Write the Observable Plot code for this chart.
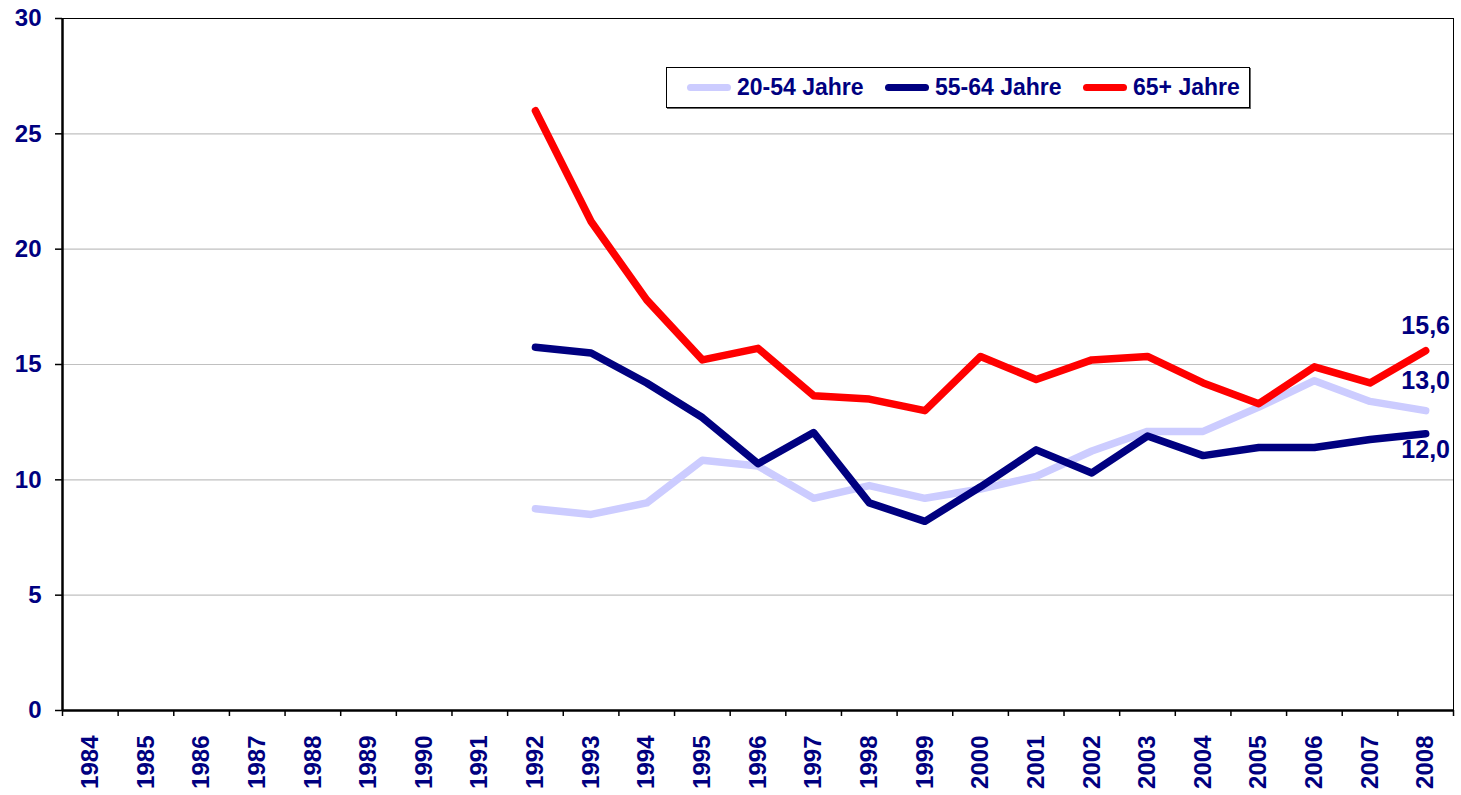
<!DOCTYPE html>
<html>
<head>
<meta charset="utf-8">
<script src="https://cdn.jsdelivr.net/npm/d3@7"></script>
<script src="https://cdn.jsdelivr.net/npm/@observablehq/plot@0.6"></script>
<style>
  html, body { margin: 0; padding: 0; background: #fff; }
  #wrap { position: relative; width: 1461px; height: 795px; }
  #legend {
    position: absolute; left: 666px; top: 67px; width: 582px; height: 39px;
    border: 1.5px solid #000; box-shadow: 1px 1px 0 #666; background: #fff;
    font-family: "Liberation Sans", Arial, sans-serif; font-weight: bold; font-size: 23px; color: #000080;
  }
  #legend .item { position: absolute; top: 0; height: 39px; display: flex; align-items: center; }
  #legend .sw { display: inline-block; width: 44px; height: 7px; border-radius: 4px; margin-right: 6px; }
  svg .axlab text { font-family: "Liberation Sans", Arial, sans-serif; font-weight: bold; }
</style>
</head>
<body>
<div id="wrap">
  <div id="chart"></div>
  <div id="legend"></div>
</div>
<script>
// Categories (x axis)
const years = [1984,1985,1986,1987,1988,1989,1990,1991,1992,1993,1994,1995,1996,1997,1998,1999,2000,2001,2002,2003,2004,2005,2006,2007,2008];
// Years with data
const dataYears = [1992,1993,1994,1995,1996,1997,1998,1999,2000,2001,2002,2003,2004,2005,2006,2007,2008];
// Series values
const v20_54 = [8.75,8.5,9.0,10.85,10.6,9.2,9.75,9.2,9.6,10.15,11.25,12.1,12.1,13.15,14.3,13.4,13.0];
const v55_64 = [15.75,15.5,14.2,12.7,10.7,12.05,9.0,8.2,9.7,11.3,10.3,11.9,11.05,11.4,11.4,11.75,12.0];
const v65 = [26.0,21.2,17.8,15.2,15.7,13.65,13.5,13.0,15.35,14.35,15.2,15.35,14.2,13.3,14.9,14.2,15.6];
const seriesNames = ["20-54 Jahre","55-64 Jahre","65+ Jahre"];
const seriesColors = ["#CCCCFF","#000080","#FF0000"];
const yTicks = [0,5,10,15,20,25,30];

const seriesValues = [v20_54, v55_64, v65];
const rows = [];
seriesNames.forEach((name, i) => {
  dataYears.forEach((yr, j) => rows.push({series: name, year: yr, value: seriesValues[i][j]}));
});
const boundaries = years.map(y => y - 0.5).concat([years[years.length - 1] + 0.5]);
const fmt = v => v.toFixed(1).replace(".", ",");
const labelDy = [-30, 16, -25];

const lineMarks = seriesNames.map((name, i) =>
  Plot.line(rows.filter(r => r.series === name), {
    x: "year", y: "value", stroke: seriesColors[i], strokeWidth: 7.5,
    strokeLinecap: "round", strokeLinejoin: "round"
  })
);
const labelMarks = seriesNames.map((name, i) =>
  Plot.text(rows.filter(r => r.series === name && r.year === dataYears[dataYears.length - 1]), {
    x: "year", y: "value", text: d => fmt(d.value), dy: labelDy[i],
    fill: "#000080", fontSize: 25, fontWeight: "bold",
    fontFamily: "Liberation Sans, Arial, sans-serif"
  })
);

const chart = Plot.plot({
  width: 1461, height: 795,
  marginLeft: 62, marginRight: 8, marginTop: 18, marginBottom: 85,
  style: {background: "#fff", color: "#000", overflow: "visible"},
  x: {type: "linear", domain: [boundaries[0], boundaries[boundaries.length - 1]], axis: null, label: null},
  y: {domain: [0, 30], axis: null, label: null},
  marks: [
    Plot.gridY(yTicks.slice(1, -1), {stroke: "#c0c0c0", strokeOpacity: 1, strokeWidth: 1.2}),
    Plot.frame({stroke: "#000", strokeWidth: 1}),
    Plot.axisY(yTicks, {
      tickSize: 7, tickPadding: 14, fontSize: 24, fill: "#000080",
      className: "axlab", strokeWidth: 1.5, label: null
    }),
    Plot.axisX(boundaries, {tickSize: 6, tickFormat: () => "", strokeWidth: 1.5, label: null}),
    Plot.axisX(years, {
      tickSize: 0, tickPadding: 25, tickRotate: -90, fontSize: 24, fill: "#000080",
      className: "axlab", tickFormat: d => String(d), label: null
    }),
    Plot.ruleY([0], {stroke: "#000", strokeWidth: 2.5}),
    Plot.ruleX([boundaries[0]], {stroke: "#000", strokeWidth: 2.5}),
    ...lineMarks,
    ...labelMarks
  ]
});
document.getElementById("chart").appendChild(chart);

// Legend
const legend = document.getElementById("legend");
const legendLeft = [20, 218, 416];
seriesNames.forEach((name, i) => {
  const it = document.createElement("div");
  it.className = "item";
  it.style.left = legendLeft[i] + "px";
  it.innerHTML = `<span class="sw" style="background:${seriesColors[i]}"></span><span>${name}</span>`;
  legend.appendChild(it);
});
</script>
</body>
</html>
